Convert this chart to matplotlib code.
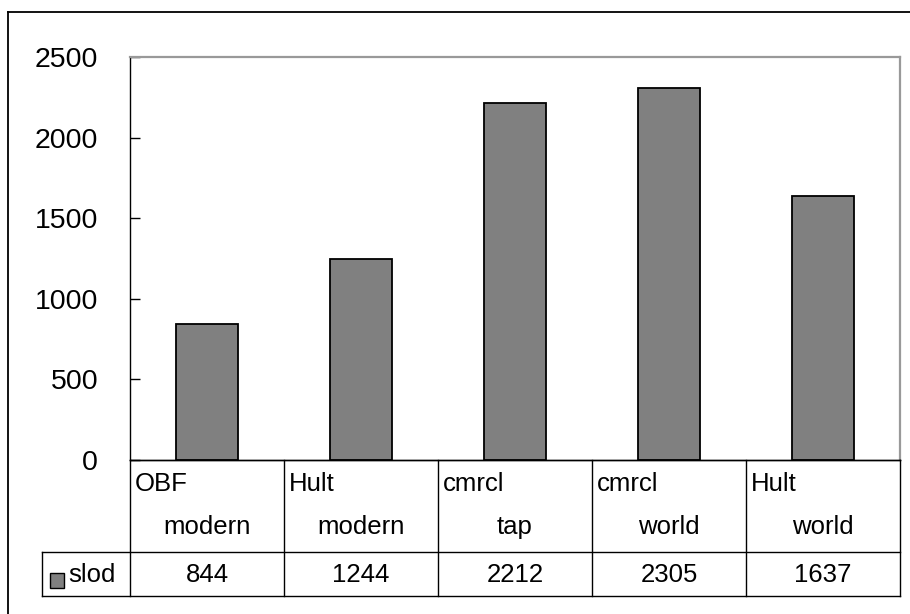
import matplotlib
matplotlib.use('Agg')
import matplotlib.pyplot as plt
from matplotlib.lines import Line2D
from matplotlib.patches import Rectangle

# data
series_name = 'slod'
cat_line1 = ['OBF', 'Hult', 'cmrcl', 'cmrcl', 'Hult']
cat_line2 = ['modern', 'modern', 'tap', 'world', 'world']
values = [844, 1244, 2212, 2305, 1637]
y_ticks = [0, 500, 1000, 1500, 2000, 2500]

plt.rcParams['font.family'] = ['Liberation Sans', 'DejaVu Sans']

W, H = 910, 614
fig = plt.figure(figsize=(W / 100, H / 100), dpi=100)
fig.patch.set_facecolor('white')

def fx(px):
    return px / W

def fy(py):
    return 1 - py / H

# outer chart border (right and bottom run off the picture)
fig.add_artist(Line2D([fx(8), fx(8)], [fy(12), fy(620)], color='black', lw=1.3))
fig.add_artist(Line2D([fx(8), fx(920)], [fy(12), fy(12)], color='black', lw=1.3))

# bar area
left, right, top, bottom = 130, 900, 57, 460
ax = fig.add_axes([fx(left), fy(bottom), fx(right - left), (bottom - top) / H])
xs = list(range(len(values)))
ax.bar(xs, values, width=0.40, color='#808080', edgecolor='black', linewidth=1.3, zorder=3)
ax.set_xlim(-0.5, len(values) - 0.5)
ax.set_ylim(0, 2500)
ax.set_yticks(y_ticks)
ax.set_yticklabels([str(t) for t in y_ticks], fontsize=20.5)
ax.tick_params(axis='y', direction='in', length=7.5, width=1, pad=23, colors='black', left=True)
ax.set_xticks([])
ax.spines['left'].set_color('black')
ax.spines['bottom'].set_color('black')
ax.spines['top'].set_color('#999999')
ax.spines['right'].set_color('#999999')
ax.spines['top'].set_linewidth(1.6)
ax.spines['right'].set_linewidth(1.6)
ax.spines['left'].set_linewidth(1.0)
ax.spines['bottom'].set_linewidth(1.0)

# data table under the bars
col_w = (right - left) / len(values)
tleft = 42
tbot = 596
row_split = 552
tab_x0 = -0.5 - (left - tleft) / col_w
tax = fig.add_axes([fx(tleft), fy(tbot), fx(right - tleft), (tbot - bottom) / H])
tax.set_xlim(tab_x0, len(values) - 0.5)
tax.set_ylim(tbot, bottom)
tax.axis('off')

lk = dict(color='black', lw=1.0, clip_on=False)
tax.plot([-0.5, len(values) - 0.5], [bottom, bottom], **lk)
tax.plot([tab_x0, len(values) - 0.5], [row_split, row_split], **lk)
tax.plot([tab_x0, len(values) - 0.5], [tbot, tbot], **lk)
for i in range(len(values) + 1):
    tax.plot([i - 0.5, i - 0.5], [bottom, tbot], **lk)
tax.plot([tab_x0, tab_x0], [row_split, tbot], **lk)

fs = 18.5
for i in range(len(values)):
    tax.text(i - 0.5 + 5 / col_w, 484, cat_line1[i], fontsize=fs, ha='left', va='center')
    tax.text(i, 527, cat_line2[i], fontsize=fs, ha='center', va='center')
    tax.text(i, 575, str(values[i]), fontsize=fs, ha='center', va='center')

# legend key in the table
tax.add_patch(Rectangle((tab_x0 + 8 / col_w, 588), 14 / col_w, -15,
                        facecolor='#808080', edgecolor='black', lw=1.0, clip_on=False))
tax.text(tab_x0 + 26 / col_w, 575, series_name, fontsize=fs, ha='left', va='center')

fig.savefig('out.png', dpi=100)
